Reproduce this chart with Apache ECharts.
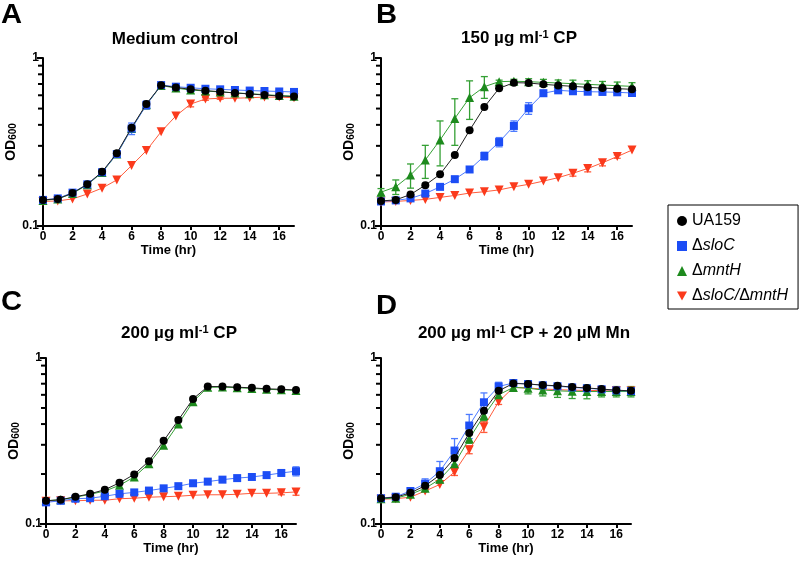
<!DOCTYPE html>
<html><head><meta charset="utf-8">
<script src="https://cdn.jsdelivr.net/npm/echarts@6/dist/echarts.min.js"></script>
<style>html,body{margin:0;padding:0;background:#fff}#c{width:800px;height:562px}</style>
</head><body><div id="c"></div><script>
// ---------- data ----------
const time = [0,1,2,3,4,5,6,7,8,9,10,11,12,13,14,15,16,17];
const xTicks = [0,2,4,6,8,10,12,14,16];
const yMinorTicks = [0.2,0.3,0.4,0.5,0.6,0.7,0.8,0.9];
const strains = ['UA159','ΔsloC','ΔmntH','ΔsloC/ΔmntH'];
const panelLetters = ['A','B','C','D'];
const panelTitles = ['Medium control','150 µg ml{sup|-1} CP','200 µg ml{sup|-1} CP','200 µg ml{sup|-1} CP + 20 µM Mn'];

// Panel A: Medium control
const a_UA159  = [0.143,0.145,0.157,0.177,0.210,0.271,0.385,0.532,0.688,0.668,0.651,0.639,0.630,0.619,0.611,0.602,0.594,0.589];
const a_sloC   = [0.143,0.146,0.158,0.177,0.209,0.268,0.380,0.525,0.690,0.675,0.665,0.656,0.651,0.645,0.640,0.636,0.632,0.628];
const a_mntH   = [0.142,0.145,0.156,0.176,0.208,0.268,0.381,0.527,0.686,0.662,0.645,0.636,0.628,0.620,0.613,0.605,0.598,0.593];
const a_double = [0.140,0.141,0.145,0.155,0.168,0.188,0.229,0.281,0.364,0.452,0.532,0.570,0.576,0.576,0.580,0.585,0.585,0.580];
const a_UA159_err  = [0,0,0,0,0,0,0,0,0,0,0,0,0,0,0,0,0,0];
const a_sloC_err   = [0,0,0,0,0,0.008,0.030,0.030,0.010,0.010,0.010,0.010,0.010,0.010,0.010,0.010,0.010,0.010];
const a_mntH_err   = [0,0,0,0,0,0,0,0,0.010,0.015,0.015,0.010,0.010,0.010,0.010,0.010,0.010,0.010];
const a_double_err = [0,0,0,0,0,0,0,0,0,0,0.020,0.010,0.008,0,0,0,0,0];

// Panel B: 150 µg/ml CP
const b_UA159  = [0.141,0.143,0.154,0.175,0.203,0.265,0.371,0.511,0.660,0.713,0.710,0.697,0.687,0.678,0.669,0.662,0.657,0.651];
const b_sloC   = [0.140,0.142,0.146,0.156,0.171,0.190,0.217,0.261,0.316,0.394,0.502,0.617,0.642,0.634,0.630,0.628,0.625,0.619];
const b_mntH   = [0.159,0.171,0.201,0.247,0.325,0.437,0.581,0.675,0.723,0.727,0.723,0.716,0.710,0.703,0.697,0.690,0.684,0.678];
const b_double = [0.139,0.140,0.142,0.144,0.148,0.152,0.157,0.160,0.164,0.171,0.177,0.185,0.194,0.206,0.220,0.238,0.259,0.283];
const b_UA159_err  = [0,0,0,0,0,0,0,0,0,0,0,0,0,0,0,0,0,0];
const b_sloC_err   = [0,0,0,0,0,0,0.008,0.014,0.020,0.028,0.040,0.025,0.015,0.012,0.010,0.010,0.010,0.010];
const b_mntH_err   = [0.008,0.017,0.033,0.055,0.097,0.135,0.150,0.100,0.015,0.020,0.030,0.030,0.030,0.035,0.035,0.035,0.035,0.035];
const b_double_err = [0,0,0,0,0,0,0,0,0,0,0,0,0,0.008,0.010,0.010,0.006,0];

// Panel C: 200 µg/ml CP
const c_UA159  = [0.138,0.140,0.146,0.152,0.161,0.177,0.199,0.239,0.317,0.423,0.567,0.673,0.673,0.667,0.661,0.652,0.648,0.642];
const c_sloC   = [0.135,0.138,0.142,0.143,0.147,0.152,0.155,0.159,0.164,0.169,0.176,0.180,0.185,0.189,0.192,0.197,0.203,0.208];
const c_mntH   = [0.138,0.140,0.145,0.151,0.158,0.171,0.192,0.231,0.298,0.400,0.546,0.666,0.668,0.662,0.656,0.648,0.643,0.637];
const c_double = [0.137,0.138,0.138,0.139,0.139,0.142,0.143,0.145,0.146,0.147,0.149,0.150,0.150,0.151,0.153,0.153,0.154,0.156];
const c_UA159_err  = [0,0,0,0,0,0,0,0,0,0,0,0,0,0,0,0,0,0];
const c_sloC_err   = [0,0,0,0,0,0,0,0,0,0,0,0,0,0,0,0,0.006,0.013];
const c_mntH_err   = [0,0,0,0,0,0,0,0,0,0,0,0,0,0,0,0,0,0];
const c_double_err = [0,0,0,0,0,0,0,0,0,0,0,0,0,0,0,0,0.004,0.007];

// Panel D: 200 µg/ml CP + 20 µM Mn
const d_UA159  = [0.143,0.145,0.154,0.170,0.197,0.250,0.353,0.481,0.634,0.703,0.697,0.687,0.680,0.668,0.660,0.650,0.640,0.634];
const d_sloC   = [0.143,0.146,0.158,0.175,0.208,0.277,0.392,0.541,0.674,0.707,0.697,0.685,0.676,0.665,0.657,0.648,0.638,0.632];
const d_mntH   = [0.142,0.143,0.151,0.164,0.186,0.231,0.326,0.450,0.600,0.665,0.658,0.641,0.634,0.630,0.628,0.628,0.628,0.628];
const d_double = [0.141,0.142,0.145,0.158,0.173,0.206,0.280,0.386,0.545,0.665,0.660,0.650,0.645,0.640,0.638,0.636,0.634,0.632];
const d_UA159_err  = [0,0,0,0,0,0,0,0,0,0,0,0,0,0,0,0,0,0];
const d_sloC_err   = [0,0.004,0.006,0.012,0.030,0.050,0.065,0.075,0.040,0.010,0.010,0.010,0.010,0.010,0.010,0.010,0.010,0.010];
const d_mntH_err   = [0,0,0.004,0.006,0.010,0.015,0.020,0.030,0.030,0.030,0.050,0.050,0.055,0.060,0.060,0.045,0.045,0.045];
const d_double_err = [0,0,0,0,0,0.010,0.015,0.030,0.020,0,0,0,0,0,0,0,0,0];

// ---------- build ----------
const FONT = '"Liberation Sans", Arial, Helvetica, sans-serif';
const panelMeans = [
  [a_UA159, a_sloC, a_mntH, a_double],
  [b_UA159, b_sloC, b_mntH, b_double],
  [c_UA159, c_sloC, c_mntH, c_double],
  [d_UA159, d_sloC, d_mntH, d_double]
];
const panelErrs = [
  [a_UA159_err, a_sloC_err, a_mntH_err, a_double_err],
  [b_UA159_err, b_sloC_err, b_mntH_err, b_double_err],
  [c_UA159_err, c_sloC_err, c_mntH_err, c_double_err],
  [d_UA159_err, d_sloC_err, d_mntH_err, d_double_err]
];
const downTri = 'path://M0,0 L10,0 L5,9 Z';
const style = [
  {symbol:'circle', size:8, color:'#000000', line:'#222222'},
  {symbol:'rect', size:8, color:'#1c4df5', line:'#4d7bff'},
  {symbol:'triangle', size:9, color:'#1d8a1d', line:'#35a035'},
  {symbol:downTri, size:9, color:'#fb3a1c', line:'#ff5c3c'}
];
const gridsPos = [
  {left:43, top:58, width:251, height:168},
  {left:381, top:58, width:251, height:168},
  {left:46, top:358, width:250, height:166},
  {left:381, top:358, width:250, height:166}
];
const titlePos = [[175,39],[519,38],[179,333],[524,333]];
const letterPos = [[1,16],[376,16],[1,303],[376,307]];

const grids = [], xAxes = [], yAxes = [], series = [], graphics = [];
for (let p = 0; p < 4; p++) {
  grids.push(Object.assign({containLabel:false}, gridsPos[p]));
  xAxes.push({
    type:'value', gridIndex:p, min:0, max:17,
    axisLine:{show:true, onZero:false, lineStyle:{color:'#000', width:2}},
    axisTick:{show:true, length:4, customValues:xTicks, lineStyle:{color:'#000', width:2}},
    axisLabel:{customValues:xTicks, color:'#000', fontSize:12, fontWeight:'bold', fontFamily:FONT, margin:5},
    splitLine:{show:false},
    name:'Time (hr)', nameLocation:'middle', nameGap:17,
    nameTextStyle:{color:'#000', fontSize:13, fontWeight:'bold', fontFamily:FONT}
  });
  yAxes.push({
    type:'log', logBase:10, gridIndex:p, min:0.1, max:1,
    axisLine:{show:true, onZero:false, lineStyle:{color:'#000', width:2}},
    axisTick:{show:true, length:6, lineStyle:{color:'#000', width:2}},
    axisLabel:{color:'#000', fontSize:12, fontWeight:'bold', fontFamily:FONT, margin:4,
      formatter: v => String(Math.round(v*10)/10)},
    splitLine:{show:false}, minorTick:{show:false},
    name:'{b|OD}{s|600}', nameLocation:'middle', nameRotate:90, nameGap:22,
    nameTextStyle:{color:'#000', fontFamily:FONT, rich:{
      b:{fontSize:14, fontWeight:'bold', color:'#000', fontFamily:FONT},
      s:{fontSize:10, fontWeight:'bold', color:'#000', fontFamily:FONT, verticalAlign:'bottom'}
    }}
  });
  // minor log ticks on the y axis
  series.push({
    type:'custom', xAxisIndex:p, yAxisIndex:p, silent:true, clip:false, z:5,
    data: yMinorTicks.map(v => [0, v]), encode:{x:0, y:1},
    renderItem: (params, api) => {
      const pt = api.coord([api.value(0), api.value(1)]);
      return {type:'line', shape:{x1:pt[0]-5, y1:pt[1], x2:pt[0], y2:pt[1]},
        style:{stroke:'#000', lineWidth:2}};
    }
  });
  // draw order: double mutant, mntH, sloC, UA159 (top)
  for (const s of [3,2,1,0]) {
    const st = style[s];
    const mean = panelMeans[p][s], err = panelErrs[p][s];
    series.push({
      type:'custom', xAxisIndex:p, yAxisIndex:p, silent:true, clip:false, z:2,
      data: time.map((t,k) => [t, mean[k], err[k]]), encode:{x:0, y:1},
      renderItem: (params, api) => {
        const x = api.value(0), m = api.value(1), e = api.value(2);
        if (!e) return {type:'group', children:[]};
        const top = api.coord([x, m + e]);
        const bot = api.coord([x, Math.max(m - e, 0.1)]);
        const cw = 3.5, sty = {stroke: st.line, lineWidth:1.3};
        return {type:'group', children:[
          {type:'line', shape:{x1:top[0], y1:top[1], x2:bot[0], y2:bot[1]}, style:sty},
          {type:'line', shape:{x1:top[0]-cw, y1:top[1], x2:top[0]+cw, y2:top[1]}, style:sty},
          {type:'line', shape:{x1:bot[0]-cw, y1:bot[1], x2:bot[0]+cw, y2:bot[1]}, style:sty}
        ]};
      }
    });
    series.push({
      type:'line', name:strains[s], xAxisIndex:p, yAxisIndex:p, z:3 + (3 - s),
      data: time.map((t,k) => [t, mean[k]]),
      symbol: st.symbol, symbolSize: st.size, showSymbol:true,
      itemStyle:{color: st.color, borderWidth:0},
      lineStyle:{color: st.line, width:1},
      emphasis:{disabled:true}, animation:false
    });
  }
  graphics.push({
    type:'text', x:titlePos[p][0], y:titlePos[p][1], z:10,
    style:{text:panelTitles[p], fill:'#000', fontSize:17, fontWeight:'bold', fontFamily:FONT,
      align:'center', verticalAlign:'middle', textAlign:'center', textVerticalAlign:'middle',
      rich:{sup:{fontSize:11, fontWeight:'bold', fontFamily:FONT, fill:'#000', verticalAlign:'top'}}}
  });
  graphics.push({
    type:'text', x:letterPos[p][0], y:letterPos[p][1], z:10, scaleX:1.08,
    style:{text:panelLetters[p], fill:'#000', fontSize:27, fontWeight:'bold', fontFamily:FONT,
      align:'left', verticalAlign:'middle', textAlign:'left', textVerticalAlign:'middle'}
  });
}

const icons = ['circle','rect','triangle',downTri];
const chart = echarts.init(document.getElementById('c'), null, {renderer:'canvas'});
chart.setOption({
  animation:false,
  backgroundColor:'#ffffff',
  grid: grids, xAxis: xAxes, yAxis: yAxes, series: series,
  legend:{
    orient:'vertical', left:668, top:205, padding:[8,10,5,9],
    itemWidth:10, itemHeight:10, itemGap:9, selectedMode:false,
    borderColor:'#000', borderWidth:1, backgroundColor:'#fff',
    data: strains.map((n,i) => ({name:n, icon:icons[i], itemStyle:{color:style[i].color}})),
    formatter: n => n.replace(/Δ([^Δ]+)/g, '{n|Δ}{i|$1}'),
    textStyle:{color:'#000', fontSize:16, fontFamily:FONT, lineHeight:16,
      rich:{n:{fontSize:16, fontFamily:FONT, color:'#000'}, i:{fontSize:16, fontStyle:'italic', fontFamily:FONT, color:'#000'}}}
  },
  graphic: graphics
});
</script></body></html>
